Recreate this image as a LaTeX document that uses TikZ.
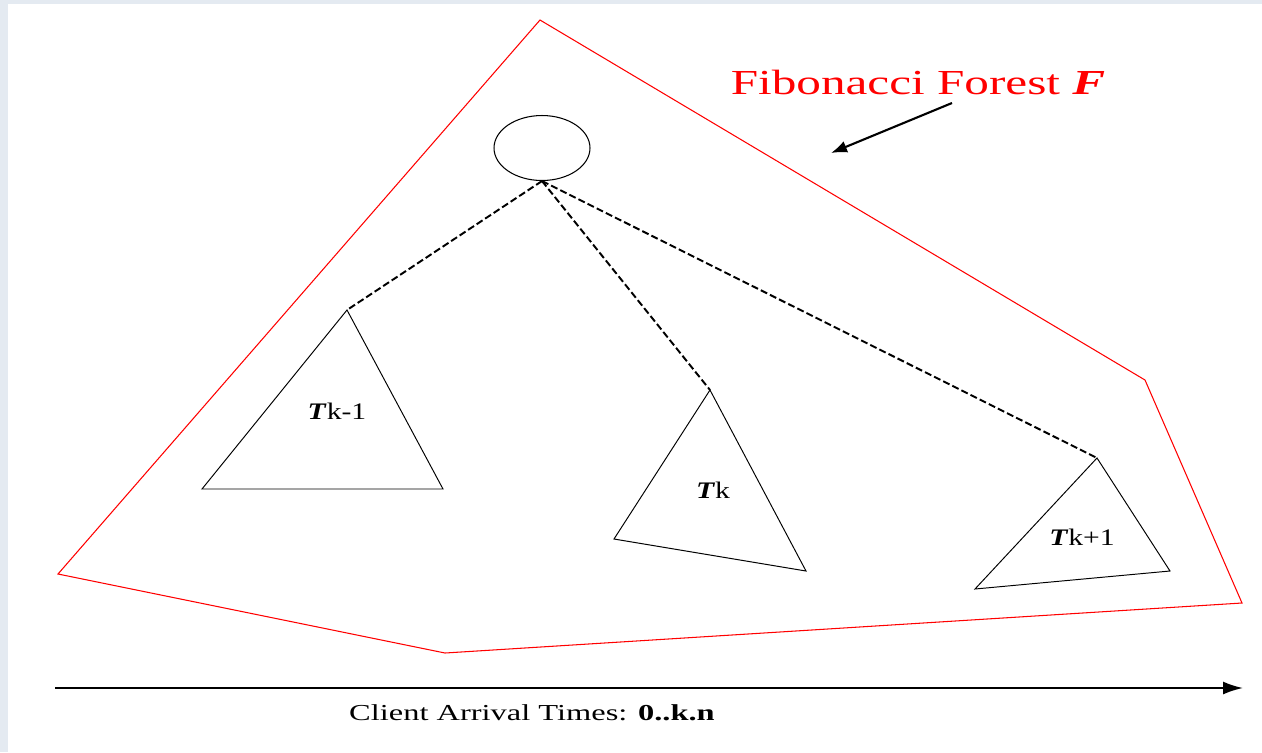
\documentclass[tikz,border=0pt]{standalone}
\usepackage{fontspec}
\setmainfont{Liberation Serif}
\usetikzlibrary{shapes.geometric,arrows.meta}
\definecolor{bgblue}{HTML}{E4EAF1}
\definecolor{fred}{HTML}{FF0000}
\tikzset{
  forest/.style={draw=fred, line width=0.6pt, line join=miter},
  tri/.style={draw=black, line width=0.55pt},
  link/.style={draw=black, line width=1.1pt, dash pattern=on 4pt off 1.8pt},
  rootnode/.style={ellipse, draw=black, line width=0.6pt, minimum width=1.92cm, minimum height=1.3cm, inner sep=0pt},
  titletext/.style={text=fred, font=\fontsize{20}{24}\selectfont, inner sep=0pt},
  trilabel/.style={font=\fontsize{13.5}{16}\selectfont, inner sep=0pt},
  axislabel/.style={font=\fontsize{13}{16}\selectfont, inner sep=0pt},
  ptr/.style={draw=black, line width=1.2pt, -{Latex[length=0.32cm,width=0.24cm]}},
  axis/.style={draw=black, line width=1.1pt, -{Latex[length=0.4cm,width=0.26cm]}}
}
\begin{document}
\begin{tikzpicture}[x=0.02cm,y=-0.02cm]
\fill[bgblue] (0,0) rectangle (1262,752);
\fill[white] (8,4) rectangle (1262,752);
\useasboundingbox (0,0) rectangle (1262,752);

% forest outline
\draw[forest] (540,20) -- (1145,380) -- (1242,603) -- (445,653) -- (58,574) -- cycle;

% title and pointer
\node[titletext] (title) at (918,82) {\scalebox{1.4}[1]{Fibonacci Forest \textbf{\textit{F}}}};
\coordinate (ptrtail) at (952,103);
\coordinate (ptrhead) at (831,153);
\draw[ptr] (ptrtail) -- (ptrhead);

% root
\node[rootnode] (root) at (542,148) {};

% subtree apexes
\coordinate (a1) at (347,310);
\coordinate (a2) at (710,390);
\coordinate (a3) at (1097,458);

\draw[link] (root.south) -- (a1);
\draw[link] (root.south) -- (a2);
\draw[link] (root.south) -- (a3);

% triangles
\draw[tri] (a1) -- (443,489) -- (202,489) -- cycle;
\draw[tri] (a2) -- (806,571) -- (614,539) -- cycle;
\draw[tri] (a3) -- (1170,571) -- (975,589) -- cycle;

\node[trilabel] (t1) at (337,411) {\scalebox{1.25}[1]{\textbf{\textit{T}}k-1}};
\node[trilabel] (t2) at (713,490) {\scalebox{1.25}[1]{\textbf{\textit{T}}k}};
\node[trilabel] (t3) at (1082,537) {\scalebox{1.25}[1]{\textbf{\textit{T}}k+1}};

% time axis
\coordinate (ax0) at (55,688);
\coordinate (ax1) at (1243,688);
\draw[axis] (ax0) -- (ax1);
\node[axislabel] (axl) at (532,713) {\scalebox{1.42}[1]{Client Arrival Times: \textbf{0..k.n}}};
\end{tikzpicture}
\end{document}
